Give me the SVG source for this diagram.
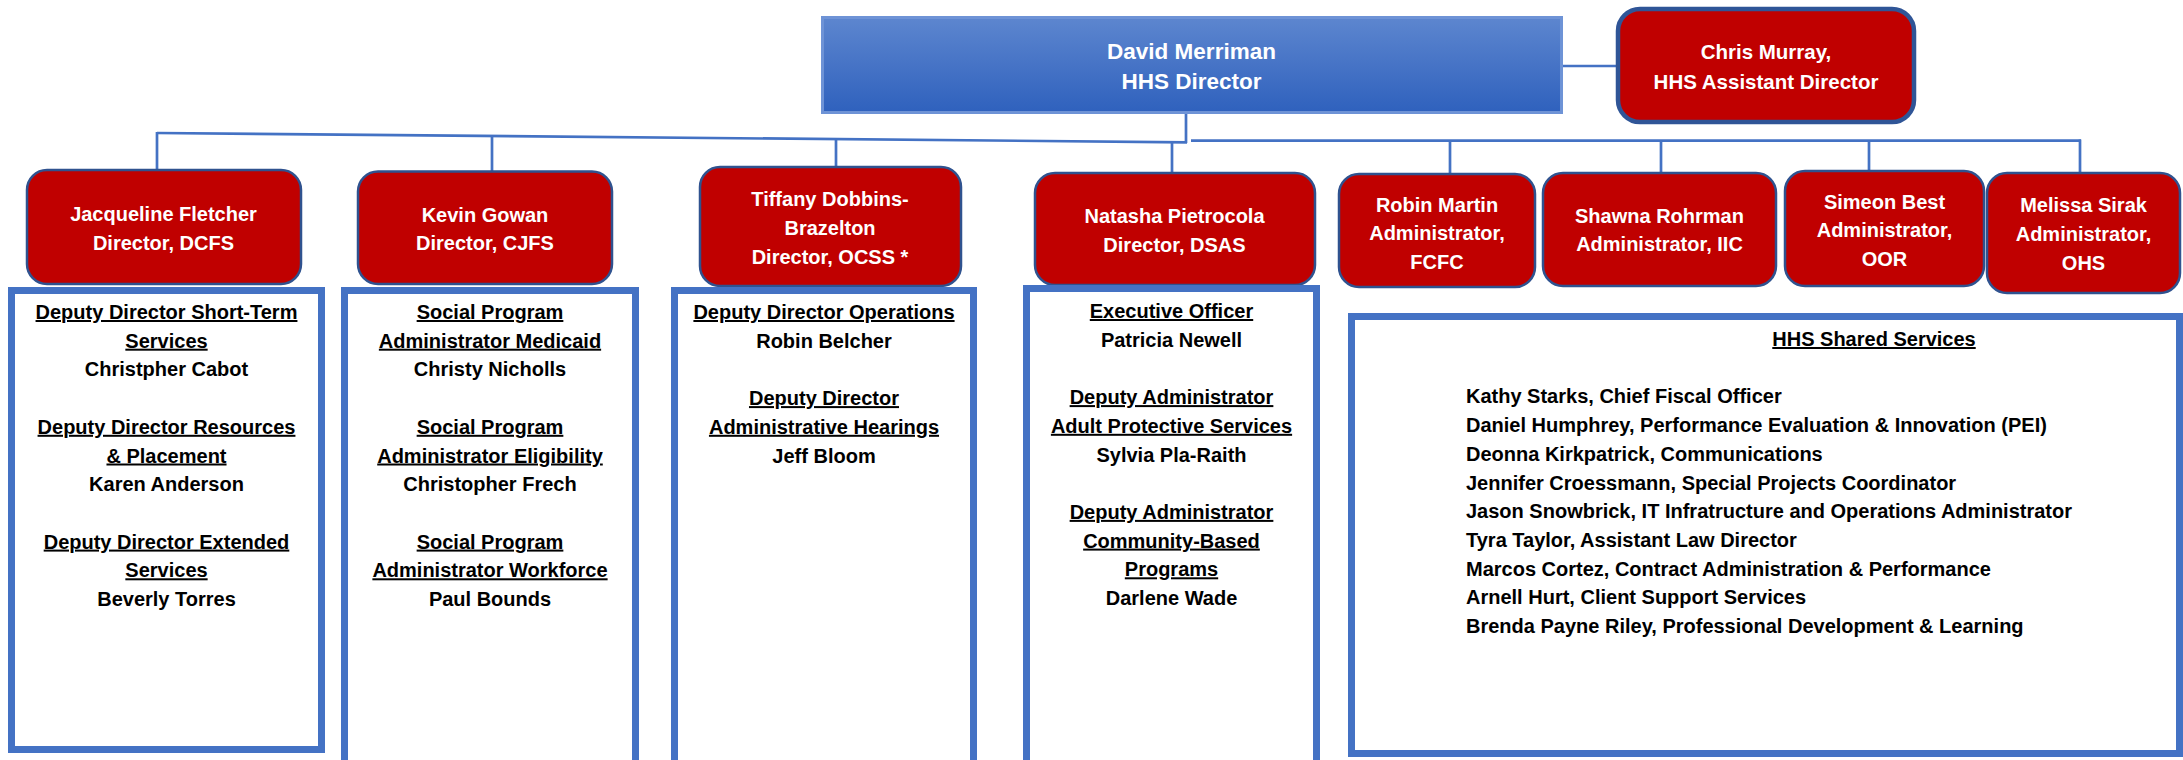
<svg xmlns="http://www.w3.org/2000/svg" width="2183" height="760" viewBox="0 0 2183 760">
<defs>
<linearGradient id="blueGrad" x1="0" y1="0" x2="0" y2="1">
<stop offset="0" stop-color="#5d86cf"/>
<stop offset="1" stop-color="#2f61bd"/>
</linearGradient>
<style>
text{font-family:"Liberation Sans",Arial,sans-serif;font-weight:bold;}
.w{fill:#ffffff;font-size:20px;text-anchor:middle;}
.b{fill:#000000;font-size:20px;text-anchor:middle;}
.bl{fill:#000000;font-size:20px;text-anchor:start;}
.u{text-decoration:underline;}
.red{fill:#c00000;stroke:#2f528f;stroke-width:2.5;}
.panel{fill:#ffffff;stroke:#4472c4;stroke-width:7;}
.conn{stroke:#4472c4;stroke-width:2.7;fill:none;}
</style>
</defs>
<rect width="2183" height="760" fill="#ffffff"/>

<g id="connectors">
<line class="conn" x1="1186" y1="113" x2="1186" y2="143"/>
<line class="conn" x1="157" y1="133" x2="1187" y2="142.3"/>
<line class="conn" x1="1191" y1="140.7" x2="2081" y2="140.7"/>
<line class="conn" x1="157" y1="132" x2="157" y2="170"/>
<line class="conn" x1="492" y1="136" x2="492" y2="172"/>
<line class="conn" x1="836" y1="139.3" x2="836" y2="167"/>
<line class="conn" x1="1172" y1="142" x2="1172" y2="173"/>
<line class="conn" x1="1450" y1="140.7" x2="1450" y2="174"/>
<line class="conn" x1="1661" y1="140.7" x2="1661" y2="173"/>
<line class="conn" x1="1869" y1="140.7" x2="1869" y2="171"/>
<line class="conn" x1="2080" y1="139.5" x2="2080" y2="173"/>
<line class="conn" x1="1562" y1="66" x2="1616" y2="66"/>
</g>

<g id="director">
<rect x="822.5" y="17.5" width="739" height="95" fill="url(#blueGrad)" stroke="#6e93d6" stroke-width="3"/>
<text class="w" x="1191.5" y="58.5" font-size="22.5" style="font-size:22.5px">David Merriman</text>
<text class="w" x="1191.5" y="89" style="font-size:22.5px">HHS Director</text>
</g>

<g id="assistant-director">
<rect x="1618" y="9" width="296" height="113" rx="22" fill="#c00000" stroke="#2f5597" stroke-width="4.5"/>
<text class="w" x="1766" y="59" style="font-size:20.5px">Chris Murray,</text>
<text class="w" x="1766" y="89" style="font-size:20.5px">HHS Assistant Director</text>
</g>

<g id="dcfs">
<rect class="red" x="27" y="170" width="274" height="114" rx="20"/>
<text class="w" x="163.5" y="221">Jacqueline Fletcher</text>
<text class="w" x="163.5" y="250">Director, DCFS</text>
</g>

<g id="cjfs">
<rect class="red" x="358" y="171.5" width="254" height="112.5" rx="20"/>
<text class="w" x="485" y="222">Kevin Gowan</text>
<text class="w" x="485" y="250">Director, CJFS</text>
</g>

<g id="ocss">
<rect class="red" x="700" y="167" width="261" height="119" rx="20"/>
<text class="w" x="830" y="206">Tiffany Dobbins-</text>
<text class="w" x="830" y="235">Brazelton</text>
<text class="w" x="830" y="264">Director, OCSS *</text>
</g>

<g id="dsas">
<rect class="red" x="1035" y="173" width="280" height="112" rx="20"/>
<text class="w" x="1174.5" y="223">Natasha Pietrocola</text>
<text class="w" x="1174.5" y="252">Director, DSAS</text>
</g>

<g id="fcfc">
<rect class="red" x="1339" y="174" width="196" height="113" rx="20"/>
<text class="w" x="1437" y="212">Robin Martin</text>
<text class="w" x="1437" y="240">Administrator,</text>
<text class="w" x="1437" y="269">FCFC</text>
</g>

<g id="iic">
<rect class="red" x="1543" y="173" width="233" height="113" rx="20"/>
<text class="w" x="1659.5" y="223">Shawna Rohrman</text>
<text class="w" x="1659.5" y="251">Administrator, IIC</text>
</g>

<g id="oor">
<rect class="red" x="1785" y="171" width="199" height="115" rx="20"/>
<text class="w" x="1884.5" y="209">Simeon Best</text>
<text class="w" x="1884.5" y="237">Administrator,</text>
<text class="w" x="1884.5" y="266">OOR</text>
</g>

<g id="ohs">
<rect class="red" x="1987" y="173" width="193" height="120" rx="20"/>
<text class="w" x="2083.5" y="212">Melissa Sirak</text>
<text class="w" x="2083.5" y="241">Administrator,</text>
<text class="w" x="2083.5" y="270">OHS</text>
</g>

<g id="dcfs-staff">
<rect class="panel" x="11.5" y="290.5" width="310" height="459"/>
<text class="b u" x="166.5" y="319">Deputy Director Short-Term</text>
<text class="b u" x="166.5" y="347.7">Services</text>
<text class="b" x="166.5" y="376.4">Christpher Cabot</text>
<text class="b u" x="166.5" y="433.8">Deputy Director Resources</text>
<text class="b u" x="166.5" y="462.5">&amp; Placement</text>
<text class="b" x="166.5" y="491.2">Karen Anderson</text>
<text class="b u" x="166.5" y="548.6">Deputy Director Extended</text>
<text class="b u" x="166.5" y="577.3">Services</text>
<text class="b" x="166.5" y="606">Beverly Torres</text>
</g>

<g id="cjfs-staff">
<rect class="panel" x="344.5" y="290.5" width="291" height="480"/>
<text class="b u" x="490" y="319">Social Program</text>
<text class="b u" x="490" y="347.7">Administrator Medicaid</text>
<text class="b" x="490" y="376.4">Christy Nicholls</text>
<text class="b u" x="490" y="433.8">Social Program</text>
<text class="b u" x="490" y="462.5">Administrator Eligibility</text>
<text class="b" x="490" y="491.2">Christopher Frech</text>
<text class="b u" x="490" y="548.6">Social Program</text>
<text class="b u" x="490" y="577.3">Administrator Workforce</text>
<text class="b" x="490" y="606">Paul Bounds</text>
</g>

<g id="ocss-staff">
<rect class="panel" x="674.5" y="290.5" width="299" height="480"/>
<text class="b u" x="824" y="319">Deputy Director Operations</text>
<text class="b" x="824" y="347.7">Robin Belcher</text>
<text class="b u" x="824" y="405.1">Deputy Director</text>
<text class="b u" x="824" y="433.8">Administrative Hearings</text>
<text class="b" x="824" y="462.5">Jeff Bloom</text>
</g>

<g id="dsas-staff">
<rect class="panel" x="1026.5" y="288.5" width="290" height="480"/>
<text class="b u" x="1171.5" y="318">Executive Officer</text>
<text class="b" x="1171.5" y="346.7">Patricia Newell</text>
<text class="b u" x="1171.5" y="404.1">Deputy Administrator</text>
<text class="b u" x="1171.5" y="432.8">Adult Protective Services</text>
<text class="b" x="1171.5" y="461.5">Sylvia Pla-Raith</text>
<text class="b u" x="1171.5" y="518.9">Deputy Administrator</text>
<text class="b u" x="1171.5" y="547.6">Community-Based</text>
<text class="b u" x="1171.5" y="576.3">Programs</text>
<text class="b" x="1171.5" y="605">Darlene Wade</text>
</g>

<g id="shared-services">
<rect class="panel" x="1351.5" y="316.5" width="828" height="437"/>
<text class="b u" x="1874" y="346">HHS Shared Services</text>
<text class="bl" x="1466" y="403.4">Kathy Starks, Chief Fiscal Officer</text>
<text class="bl" x="1466" y="432.1">Daniel Humphrey, Performance Evaluation &amp; Innovation (PEI)</text>
<text class="bl" x="1466" y="460.8">Deonna Kirkpatrick, Communications</text>
<text class="bl" x="1466" y="489.5">Jennifer Croessmann, Special Projects Coordinator</text>
<text class="bl" x="1466" y="518.2">Jason Snowbrick, IT Infratructure and Operations Administrator</text>
<text class="bl" x="1466" y="546.9">Tyra Taylor, Assistant Law Director</text>
<text class="bl" x="1466" y="575.6">Marcos Cortez, Contract Administration &amp; Performance</text>
<text class="bl" x="1466" y="604.3">Arnell Hurt, Client Support Services</text>
<text class="bl" x="1466" y="633">Brenda Payne Riley, Professional Development &amp; Learning</text>
</g>
</svg>
